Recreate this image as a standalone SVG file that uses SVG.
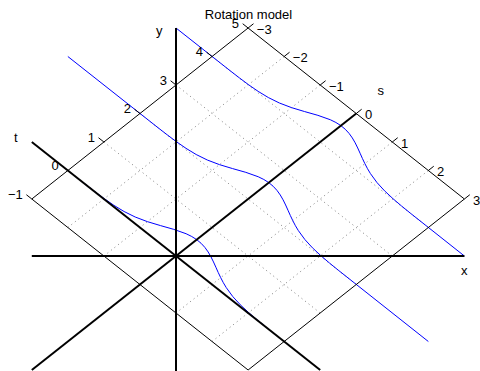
<svg xmlns="http://www.w3.org/2000/svg" width="480" height="371" viewBox="0 0 480 371">
<style>
text{font-family:"Liberation Sans",Arial,Helvetica,sans-serif;font-size:13px;fill:#000}
.grid{stroke:#808080;stroke-width:1;stroke-dasharray:1 3.5;fill:none}
.thin{stroke:#000;stroke-width:1;fill:none}
.bold{stroke:#000;stroke-width:2;fill:none}
.curve{stroke:#0000ff;stroke-width:1;fill:none;stroke-linejoin:round}
.tl{text-anchor:end}
.sl{text-anchor:start}
.mid{text-anchor:middle}
</style>
<rect width="480" height="371" fill="#fff"/>
<g id="grid">
<line class="grid" x1="67.85" y1="227.5" x2="284.15" y2="56.5"/>
<line class="grid" x1="103.9" y1="256" x2="320.2" y2="85"/>
<line class="grid" x1="176" y1="313" x2="392.3" y2="142"/>
<line class="grid" x1="212.05" y1="341.5" x2="428.35" y2="170.5"/>
<line class="grid" x1="103.9" y1="142" x2="320.2" y2="313"/>
<line class="grid" x1="139.95" y1="113.5" x2="356.25" y2="284.5"/>
<line class="grid" x1="176" y1="85" x2="392.3" y2="256"/>
<line class="grid" x1="212.05" y1="56.5" x2="428.35" y2="227.5"/>
</g>
<g id="curves">
<polyline class="curve" points="85.92,184.71 95.03,191.76 104.30,198.69 113.90,205.34 124.10,211.53 135.20,217.00 147.37,221.63 160.42,225.57 173.69,229.33 186.13,233.74 191.69,236.47 196.70,239.64 201.09,243.29 204.89,247.41 208.15,251.96 210.98,256.85 213.51,261.97 215.88,267.22 218.23,272.49 220.69,277.67 223.33,282.71 226.22,287.55 232.81,296.59 240.38,304.85 248.64,312.57 257.31,319.97 266.19,327.20"/>
<polyline class="curve" points="67.85,56.5 158.02,127.71 167.13,134.76 176.40,141.69 186.00,148.34 196.20,154.53 207.30,160.00 219.47,164.63 232.52,168.57 245.79,172.33 258.23,176.74 263.79,179.47 268.80,182.64 273.19,186.29 276.99,190.41 280.25,194.96 283.08,199.85 285.61,204.97 287.98,210.22 290.33,215.49 292.79,220.67 295.43,225.71 298.32,230.55 304.91,239.59 312.48,247.85 320.74,255.57 329.41,262.97 338.29,270.20 428.35,341.5"/>
<polyline class="curve" points="176,28 230.12,70.71 239.23,77.76 248.50,84.69 258.10,91.34 268.30,97.53 279.40,103.00 291.57,107.63 304.62,111.57 317.89,115.33 330.33,119.74 335.89,122.47 340.90,125.64 345.29,129.29 349.09,133.41 352.35,137.96 355.18,142.85 357.71,147.97 360.08,153.22 362.43,158.49 364.89,163.67 367.53,168.71 370.42,173.55 377.01,182.59 384.58,190.85 392.84,198.57 401.51,205.97 410.39,213.20 464.4,256"/>
</g>
<g id="box">
<polygon class="thin" points="31.8,199 248.1,28 464.4,199 248.1,370"/>
</g>
<g id="ticks">
<line class="thin" x1="31.8" y1="199" x2="26.39" y2="194.72"/>
<line class="thin" x1="67.85" y1="170.5" x2="62.44" y2="166.22"/>
<line class="thin" x1="103.9" y1="142" x2="98.49" y2="137.72"/>
<line class="thin" x1="139.95" y1="113.5" x2="134.54" y2="109.22"/>
<line class="thin" x1="176" y1="85" x2="170.59" y2="80.72"/>
<line class="thin" x1="212.05" y1="56.5" x2="206.64" y2="52.22"/>
<line class="thin" x1="248.1" y1="28" x2="242.69" y2="23.72"/>
<line class="thin" x1="248.1" y1="28" x2="253.51" y2="23.72"/>
<line class="thin" x1="284.15" y1="56.5" x2="289.56" y2="52.22"/>
<line class="thin" x1="320.2" y1="85" x2="325.61" y2="80.72"/>
<line class="thin" x1="356.25" y1="113.5" x2="361.66" y2="109.22"/>
<line class="thin" x1="392.3" y1="142" x2="397.71" y2="137.72"/>
<line class="thin" x1="428.35" y1="170.5" x2="433.76" y2="166.22"/>
<line class="thin" x1="464.4" y1="199" x2="469.81" y2="194.72"/>
</g>
<g id="axes">
<line id="x-axis" class="bold" x1="31.8" y1="256" x2="464.4" y2="256"/>
<line id="y-axis" class="bold" x1="176" y1="28" x2="176" y2="371"/>
<line id="t-axis" class="bold" x1="31.8" y1="370" x2="356.25" y2="113.5"/>
<line id="s-axis" class="bold" x1="31.8" y1="142" x2="320.2" y2="370"/>
</g>
<g id="t-labels" class="tl">
<text class="tl" x="22.8" y="198.6">−1</text>
<text class="tl" x="58.85" y="170.1">0</text>
<text class="tl" x="94.9" y="141.6">1</text>
<text class="tl" x="130.95" y="113.1">2</text>
<text class="tl" x="167" y="84.6">3</text>
<text class="tl" x="203.05" y="56.1">4</text>
<text class="tl" x="239.1" y="27.6">5</text>
</g>
<g id="s-labels">
<text class="sl" x="256.8" y="33.8">−3</text>
<text class="sl" x="292.85" y="62.3">−2</text>
<text class="sl" x="328.9" y="90.8">−1</text>
<text class="sl" x="364.95" y="119.3">0</text>
<text class="sl" x="401" y="147.8">1</text>
<text class="sl" x="437.05" y="176.3">2</text>
<text class="sl" x="473.1" y="204.8">3</text>
</g>
<g id="axis-labels">
<text class="mid" x="15.7" y="142">t</text>
<text class="mid" x="380.7" y="95.1">s</text>
<text class="mid" x="159.3" y="35.3">y</text>
<text class="mid" x="464.3" y="275.1">x</text>
</g>
<g id="title">
<text class="mid" x="248.5" y="19">Rotation model</text>
</g>
</svg>
